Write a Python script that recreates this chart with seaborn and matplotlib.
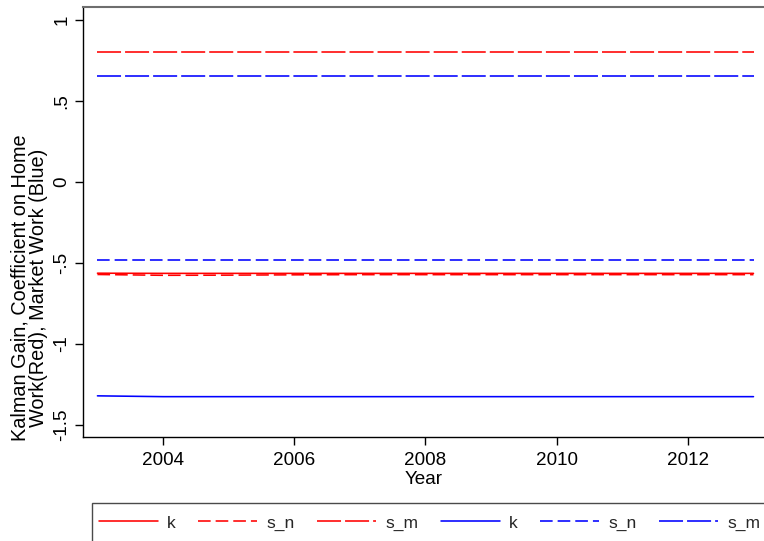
import matplotlib
matplotlib.use("Agg")
import matplotlib.pyplot as plt
from matplotlib.patches import Rectangle
import numpy as np
import pandas as pd
import seaborn as sns

# Kalman gain and coefficients on home work (red) and market work (blue)
years = [2003, 2004, 2005, 2006, 2007, 2008, 2009, 2010, 2011, 2012, 2013]
home_k = [-0.563, -0.564, -0.564, -0.564, -0.564, -0.564, -0.564, -0.564, -0.564, -0.564, -0.564]
home_s_n = [-0.571, -0.576, -0.575, -0.573, -0.572, -0.572, -0.572, -0.572, -0.572, -0.572, -0.572]
home_s_m = [0.803, 0.803, 0.803, 0.803, 0.803, 0.803, 0.803, 0.803, 0.803, 0.803, 0.803]
market_k = [-1.320, -1.325, -1.325, -1.325, -1.325, -1.325, -1.325, -1.325, -1.325, -1.325, -1.325]
market_s_n = [-0.479, -0.479, -0.479, -0.479, -0.479, -0.479, -0.479, -0.479, -0.479, -0.479, -0.479]
market_s_m = [0.653, 0.653, 0.653, 0.653, 0.653, 0.653, 0.653, 0.653, 0.653, 0.653, 0.653]

series_labels = ["k", "s_n", "s_m", "k", "s_n", "s_m"]
y_ticks = [-1.5, -1, -0.5, 0, 0.5, 1]
y_tick_labels = ["-1.5", "-1", "-.5", "0", ".5", "1"]
x_ticks = [2004, 2006, 2008, 2010, 2012]

sns.set_theme(style="white")
plt.rcParams["font.family"] = ["Liberation Sans", "DejaVu Sans"]
plt.rcParams["lines.scale_dashes"] = False

fig = plt.figure(figsize=(7.64, 5.41), dpi=100)
ax = fig.add_axes([83 / 764, 1 - 437 / 541, 1 - 83 / 764, (437 - 7) / 541])

solid = "-"
short_dash = (0, (9.1, 3.6))
long_dash = (0, (17.3, 2.9))

series = [
    (home_k, "red", solid),
    (home_s_n, "red", short_dash),
    (home_s_m, "red", long_dash),
    (market_k, "blue", solid),
    (market_s_n, "blue", short_dash),
    (market_s_m, "blue", long_dash),
]

for (vals, color, ls), lab in zip(series, series_labels):
    df = pd.DataFrame({"Year": years, "value": vals})
    sns.lineplot(data=df, x="Year", y="value", ax=ax, color=color,
                 linestyle=ls, linewidth=1.15, label=lab, legend=False)

ax.set_xlim(2002.78, 2013.16)
ax.set_ylim(-1.574, 1.08)
ax.set_xticks(x_ticks)
ax.set_xticklabels([str(t) for t in x_ticks], fontsize=13.6)
ax.set_yticks(y_ticks)
ax.set_yticklabels(y_tick_labels, fontsize=13.6, rotation=90, va="center")
ax.tick_params(axis="both", direction="out", length=6, width=1.0,
               color="black", bottom=True, left=True, labelcolor="black")
ax.tick_params(axis="x", pad=5)
ax.tick_params(axis="y", pad=3)

ax.set_xlabel("Year", fontsize=13.6, labelpad=1, color="black")
ax.set_ylabel("Kalman Gain, Coefficient on Home\nWork(Red), Market Work (Blue)",
              fontsize=14.3, color="black", linespacing=0.95)
ax.yaxis.set_label_coords(-0.052, 0.3465)
ax.grid(False)

for side in ["left", "bottom"]:
    ax.spines[side].set_color("black")
    ax.spines[side].set_linewidth(1.0)
ax.spines["top"].set_color("#6e6e6e")
ax.spines["top"].set_linewidth(1.5)
ax.spines["right"].set_visible(False)

handles, labels = ax.get_legend_handles_labels()
leg = fig.legend(handles, labels, loc="center left",
                 bbox_to_anchor=(99 / 764, 1 - 523 / 541), ncol=6,
                 frameon=False, fontsize=12.5, handlelength=3.4,
                 handletextpad=0.52, columnspacing=1.3, borderaxespad=0,
                 borderpad=0)

fig.patches.append(Rectangle((92 / 764, -0.05), 1.0, (541 - 503) / 541 + 0.05,
                             transform=fig.transFigure, fill=False,
                             edgecolor="#4a4a4a", linewidth=1.0))

fig.savefig("out.png", dpi=100)
